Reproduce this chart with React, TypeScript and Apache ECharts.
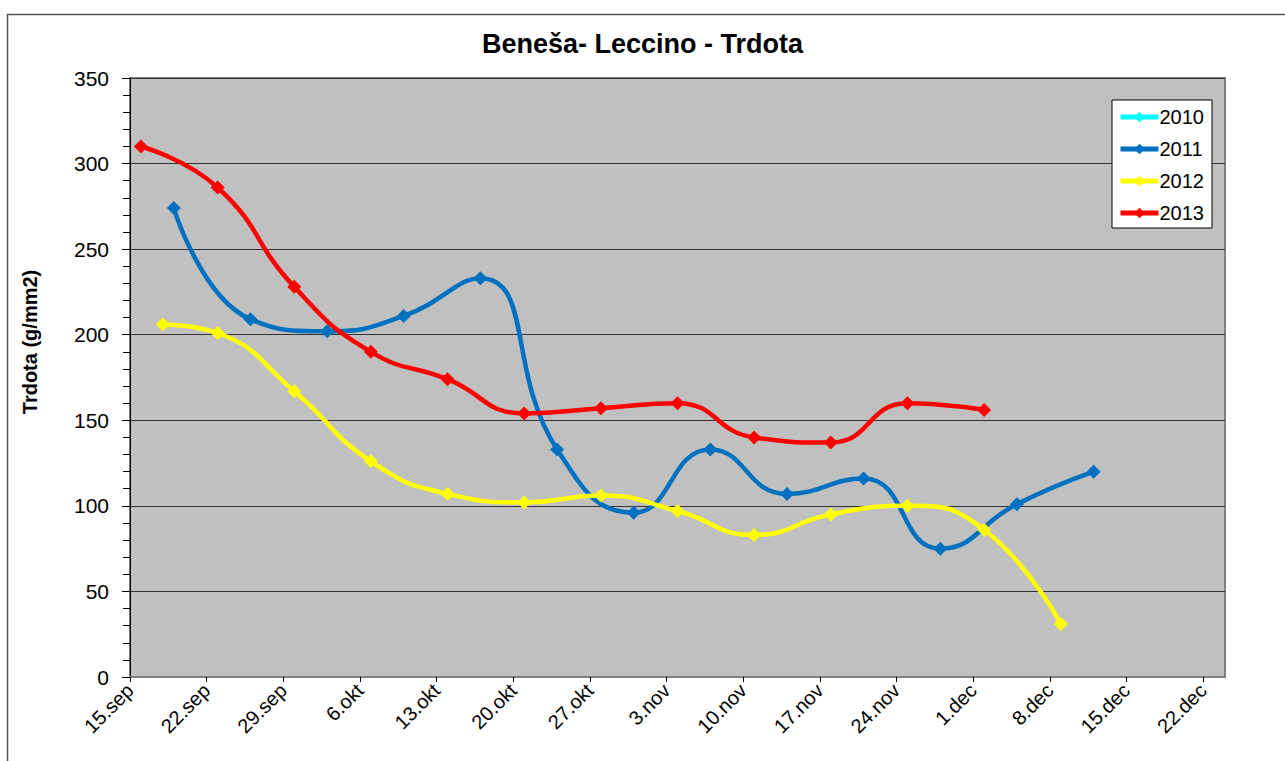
import React, { useEffect, useRef } from "react";
import * as echarts from "echarts";

const TITLE = "Beneša- Leccino - Trdota";
const Y_NAME = "Trdota (g/mm2)";
const TICK_LABELS = [
  "15.sep", "22.sep", "29.sep", "6.okt", "13.okt", "20.okt", "27.okt",
  "3.nov", "10.nov", "17.nov", "24.nov", "1.dec", "8.dec", "15.dec", "22.dec",
];

const SERIES_NAMES = ["2010", "2011", "2012", "2013"];
const SERIES_COLORS = ["#00FFFF", "#0070C0", "#FFFF00", "#FF0000"];

const DATES_2010: string[] = [];
const VALUES_2010: number[] = [];

const DATES_2011 = [
  "09-19", "09-26", "10-03", "10-10", "10-17", "10-24", "10-31",
  "11-07", "11-14", "11-21", "11-28", "12-05", "12-12",
];
const VALUES_2011 = [274, 209, 202, 211, 233, 133, 96, 133, 107, 116, 75, 101, 120];

const DATES_2012 = [
  "09-18", "09-23", "09-30", "10-07", "10-14", "10-21", "10-28",
  "11-04", "11-11", "11-18", "11-25", "12-02", "12-09",
];
const VALUES_2012 = [206, 201, 167, 126, 107, 102, 106, 97, 83, 95, 100, 86, 31];

const DATES_2013 = [
  "09-16", "09-23", "09-30", "10-07", "10-14", "10-21", "10-28",
  "11-04", "11-11", "11-18", "11-25", "12-02",
];
const VALUES_2013 = [310, 286, 228, 190, 174, 154, 157, 160, 140, 137, 160, 156];

const START = Date.UTC(2000, 8, 15);
function dayOffset(md: string): number {
  const [m, d] = md.split("-").map(Number);
  return Math.round((Date.UTC(2000, m - 1, d) - START) / 86400000);
}
function pairs(dates: string[], values: number[]) {
  return dates.map((d, i) => [dayOffset(d), values[i]]);
}

const SERIES_DATA = [
  pairs(DATES_2010, VALUES_2010),
  pairs(DATES_2011, VALUES_2011),
  pairs(DATES_2012, VALUES_2012),
  pairs(DATES_2013, VALUES_2013),
];

const FONT = "Liberation Sans, Arial, sans-serif";

export default function App() {
  const ref = useRef<HTMLDivElement>(null);
  useEffect(() => {
    if (!ref.current) return;
    const chart = echarts.init(ref.current, undefined, { renderer: "svg" });
    chart.setOption({
      animation: false,
      backgroundColor: "#FFFFFF",
      textStyle: { fontFamily: FONT },
      title: {
        text: TITLE,
        left: "center",
        top: 25,
        textStyle: { fontSize: 27, fontWeight: "bold", color: "#000", fontFamily: FONT },
      },
      graphic: [
        {
          type: "rect",
          shape: { x: 7.5, y: 14.5, width: 1400, height: 900 },
          style: { fill: "none", stroke: "#555", lineWidth: 1.5 },
          silent: true,
          z: 100,
        },
        {
          type: "text",
          x: 30,
          y: 342,
          rotation: Math.PI / 2,
          style: {
            text: Y_NAME,
            fontSize: 20,
            fontWeight: "bold",
            fontFamily: FONT,
            fill: "#000",
            textAlign: "center",
            textVerticalAlign: "middle",
          },
          silent: true,
        },
      ],
      legend: {
        orient: "vertical",
        left: 1112,
        top: 100,
        data: SERIES_NAMES,
        backgroundColor: "#FFFFFF",
        borderColor: "#000",
        borderWidth: 1,
        padding: [7, 8, 5, 6],
        itemWidth: 38,
        itemHeight: 13,
        itemGap: 12,
        lineStyle: { width: 5 },
        textStyle: { fontSize: 20, color: "#000", fontFamily: FONT, padding: [0, 0, 0, -4] },
      },
      grid: {
        left: 130,
        top: 78,
        width: 1095,
        height: 599,
        show: true,
        backgroundColor: "#C0C0C0",
        borderColor: "#808080",
        borderWidth: 2,
      },
      xAxis: {
        type: "value",
        min: 0,
        max: 100,
        interval: 7,
        axisLine: { show: true, onZero: false, lineStyle: { color: "#808080", width: 2 } },
        axisTick: { show: true, length: 5, lineStyle: { color: "#000" } },
        splitLine: { show: false },
        axisLabel: {
          rotate: 45,
          fontSize: 20,
          color: "#000",
          fontFamily: FONT,
          margin: 10,
          showMaxLabel: false,
          formatter: (v: number) => (v % 7 === 0 ? TICK_LABELS[v / 7] ?? "" : ""),
        },
      },
      yAxis: {
        type: "value",
        min: 0,
        max: 350,
        interval: 50,
        axisLine: { show: true, lineStyle: { color: "#000", width: 1 } },
        axisTick: { show: true, length: 8, lineStyle: { color: "#000" } },
        minorTick: { show: true, splitNumber: 5, length: 7, lineStyle: { color: "#000" } },
        splitLine: { show: true, lineStyle: { color: "#333", width: 1 } },
        axisLabel: { fontSize: 21, color: "#000", fontFamily: FONT, margin: 21 },
      },
      series: SERIES_NAMES.map((name, i) => ({
        name,
        type: "line",
        data: SERIES_DATA[i],
        smooth: 0.5,
        symbol: "diamond",
        symbolSize: 14,
        color: SERIES_COLORS[i],
        lineStyle: { width: 4.5, color: SERIES_COLORS[i] },
        itemStyle: { color: SERIES_COLORS[i] },
        z: 3 + i,
      })),
    });
    return () => chart.dispose();
  }, []);
  return (
    <div
      ref={ref}
      style={{ position: "absolute", left: 0, top: 0, width: 1285, height: 761 }}
    />
  );
}
